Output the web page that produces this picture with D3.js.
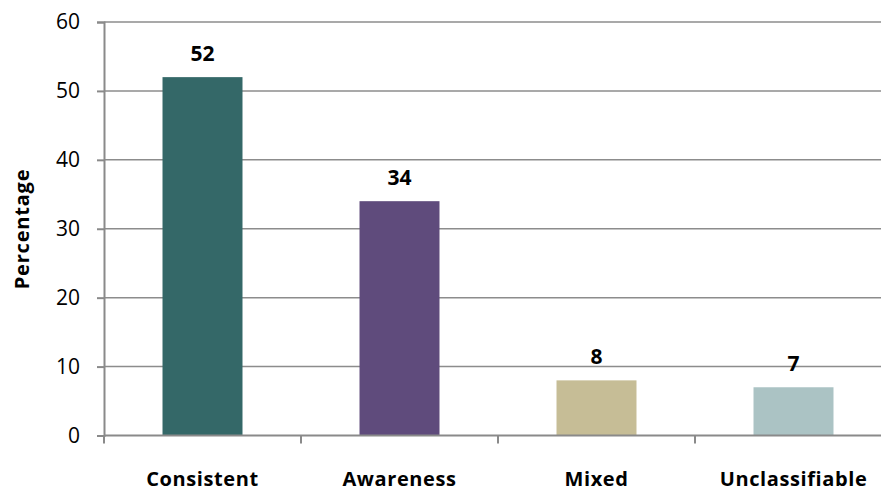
<!DOCTYPE html>
<html>
<head>
<meta charset="utf-8">
<script src="https://cdn.jsdelivr.net/npm/d3@7"></script>
<style>
  body { margin: 0; background: #fff; }
  svg text { font-family: "Open Sans", sans-serif; fill: #000; }
</style>
</head>
<body>
<div id="chart"></div>
<script>
const categories = ['Consistent', 'Awareness', 'Mixed', 'Unclassifiable'];
const values = [52, 34, 8, 7];
const colors = ['#346868', '#5f4b7c', '#c6bd96', '#abc3c4'];
const yTicks = [0, 10, 20, 30, 40, 50, 60];

const width = 881, height = 491;
const margin = { t: 22, r: -11, b: 55.5, l: 104 };

const svg = d3.select('#chart')
  .append('svg')
    .attr('width', width)
    .attr('height', height);

const g = svg.append('g')
  .attr('transform', 'translate(' + margin.l + ',' + margin.t + ')');

const w = width - margin.l - margin.r;
const h = height - margin.t - margin.b;

const x = d3.scaleBand()
  .domain(categories)
  .range([0, w])
  .paddingInner(0.594)
  .paddingOuter(0.297);

const y = d3.scaleLinear()
  .domain([0, 60])
  .range([h, 0]);

// gridlines
g.append('g')
  .selectAll('line')
  .data(yTicks.slice(1))
  .join('line')
    .attr('x1', 0)
    .attr('x2', w)
    .attr('y1', d => y(d))
    .attr('y2', d => y(d))
    .attr('stroke', '#8c8c8c')
    .attr('stroke-width', 1.5);

// y axis
const yAxis = g.append('g')
  .call(d3.axisLeft(y).tickValues(yTicks).tickSize(7).tickPadding(17));
yAxis.select('.domain').attr('stroke', '#8a8a8a').attr('stroke-width', 2);
yAxis.selectAll('.tick line').attr('stroke', '#8a8a8a').attr('stroke-width', 2);
yAxis.selectAll('.tick text')
  .style('font-size', '21px')
  .style('font-family', '"Open Sans", sans-serif')
  .attr('fill', '#000');

// bars
g.selectAll('rect.bar')
  .data(values)
  .join('rect')
    .attr('class', 'bar')
    .attr('x', (d, i) => x(categories[i]))
    .attr('y', d => y(d))
    .attr('width', x.bandwidth())
    .attr('height', d => h - y(d))
    .attr('fill', (d, i) => colors[i]);

// x axis
const step = x.step();
const boundaries = d3.range(categories.length + 1).map(i => i * step);
const xAxis = g.append('g').attr('transform', 'translate(0,' + h + ')');
xAxis.append('line')
  .attr('x1', 0).attr('x2', w)
  .attr('stroke', '#8a8a8a').attr('stroke-width', 2);
xAxis.selectAll('line.tick')
  .data(boundaries)
  .join('line')
    .attr('class', 'tick')
    .attr('x1', d => d).attr('x2', d => d)
    .attr('y1', 0).attr('y2', 8)
    .attr('stroke', '#8a8a8a').attr('stroke-width', 2);
xAxis.selectAll('text')
  .data(categories)
  .join('text')
    .attr('x', d => x(d) + x.bandwidth() / 2)
    .attr('y', 50)
    .attr('text-anchor', 'middle')
    .style('font-size', '20px')
    .style('letter-spacing', '0.6px')
    .style('font-weight', 'bold')
    .text(d => d);

// value labels
g.selectAll('text.value')
  .data(values)
  .join('text')
    .attr('class', 'value')
    .attr('x', (d, i) => x(categories[i]) + x.bandwidth() / 2)
    .attr('y', d => y(d) - 16)
    .attr('text-anchor', 'middle')
    .style('font-size', '21px')
    .style('font-weight', 'bold')
    .text(d => d);

// y title
svg.append('text')
  .attr('transform', 'translate(29,229) rotate(-90)')
  .attr('text-anchor', 'middle')
  .style('font-size', '20px')
  .style('letter-spacing', '0.8px')
  .style('font-weight', 'bold')
  .text('Percentage');
</script>
</body>
</html>
